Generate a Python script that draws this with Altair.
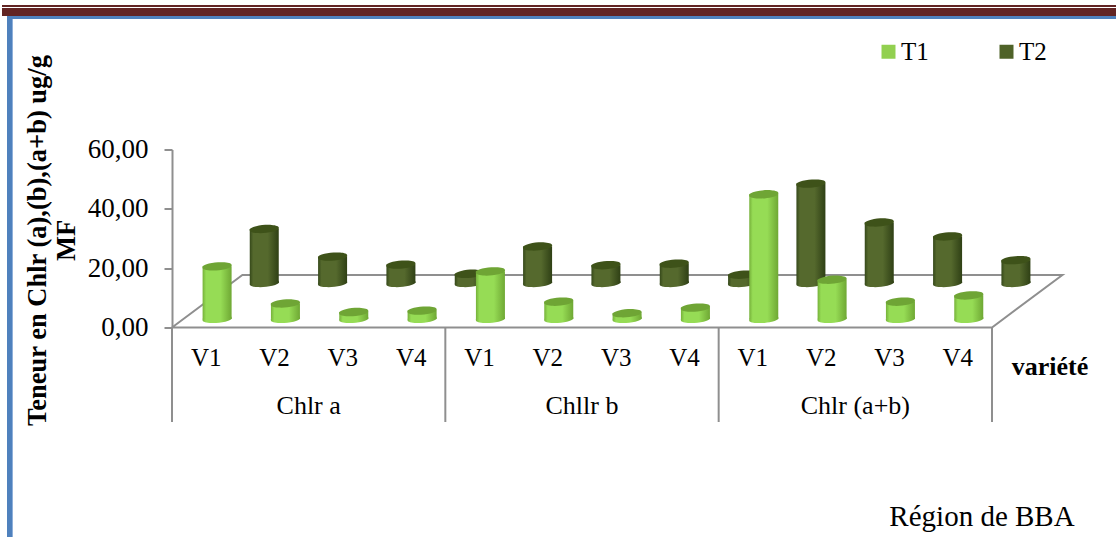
import altair as alt
import pandas as pd

# Chlorophyll content per pigment and variety, for the two treatments
groups = ["Chlr a", "Chllr b", "Chlr (a+b)"]
varieties = ["V1", "V2", "V3", "V4"]
series = ["T1", "T2"]
t1_values = [17.7, 5.2, 2.3, 2.8, 16.0, 5.8, 1.9, 3.8, 42.0, 13.2, 5.8, 7.9]
t2_values = [18.2, 8.9, 6.2, 3.1, 12.3, 6.0, 6.5, 2.8, 33.5, 20.4, 15.7, 7.7]
y_ticks = [0, 20, 40, 60]

SERIF = "Liberation Serif"
AXIS_GREY = "#8f8f8f"
T1_COLOR, T2_COLOR = "#92D050", "#4F6228"

# Plot area inside the page
LEFT, TOP, WIDTH, HEIGHT = 172, 149.5, 820, 178
PAGE_W, PAGE_H = 1116, 537

# Oblique projection: each row stands on a lifted, shifted floor
T1_SHIFT, T1_LIFT = 0.66, 2.9
T2_SHIFT, T2_LIFT = 1.35, 15.0
DEPTH_X, DEPTH_Y = 1.03, 17.7
CYL_W = 29

rows = []
for i, (a, b) in enumerate(zip(t1_values, t2_values)):
    rows.append(dict(serie="T1", x=i + T1_SHIFT, base=T1_LIFT, top=T1_LIFT + a))
    rows.append(dict(serie="T2", x=i + T2_SHIFT, base=T2_LIFT, top=T2_LIFT + b))
table = pd.DataFrame(rows)

x_scale = alt.Scale(domain=[0, 12], nice=False, zero=False, padding=0)
y_scale = alt.Scale(domain=[0, 60], nice=False, zero=False, padding=0)
y_axis = alt.Axis(
    values=y_ticks,
    labelExpr="replace(format(datum.value, '.2f'), '.', ',')",
    grid=False, domainColor=AXIS_GREY, domainWidth=2,
    tickColor=AXIS_GREY, tickWidth=2, tickSize=8,
    labelFont=SERIF, labelFontSize=27, labelColor="#000000", labelPadding=16,
    title=["Teneur en Chlr (a),(b),(a+b) ug/g", "MF"],
    titleFont=SERIF, titleFontSize=26.5, titleFontWeight="bold", titleColor="#000000",
    titleLineHeight=29, titleX=37 - LEFT, titleY=240 - TOP, titleAngle=270,
    titleAlign="center", titleBaseline="middle",
)
X = lambda f: alt.X(f, type="quantitative", scale=x_scale, axis=None)
Y = lambda f: alt.Y(f, type="quantitative", scale=y_scale, axis=y_axis)

ELLIPSE = "M-1,0.08 A1.01,0.25 -4.5 1 1 1,-0.08 A1.01,0.25 -4.5 1 1 -1,0.08 Z"


def side_gradient(edge, mid, dark):
    return alt.Gradient(
        gradient="linear", x1=0, y1=0, x2=1, y2=0,
        stops=[
            alt.GradientStop(offset=0, color=edge),
            alt.GradientStop(offset=0.12, color=mid),
            alt.GradientStop(offset=0.62, color=mid),
            alt.GradientStop(offset=1, color=dark),
        ],
    )


def cylinders(name, edge, mid, dark, cap):
    data = table[table.serie == name]
    fill = side_gradient(edge, mid, dark)
    foot = alt.Chart(data).mark_point(
        shape=ELLIPSE, size=CYL_W ** 2, filled=True, fill=fill, opacity=1, strokeWidth=0
    ).encode(x=X("x"), y=Y("base"))
    body = alt.Chart(data).mark_bar(size=CYL_W, color=fill).encode(
        x=X("x"), y=Y("top"), y2="base:Q",
    )
    head = alt.Chart(data).mark_point(
        shape=ELLIPSE, size=CYL_W ** 2, filled=True, fill=cap, opacity=1, strokeWidth=0
    ).encode(x=X("x"), y=Y("top"))
    return foot + body + head


def band(x0, y0, x1, y1, color):
    """Page furniture given in page pixels."""
    return alt.Chart(alt.Data(values=[{}])).mark_rect(color=color).encode(
        x=alt.value(x0 - LEFT), x2=alt.value(x1 - LEFT),
        y=alt.value(y0 - TOP), y2=alt.value(y1 - TOP),
    )


frame = (
    band(2, 5, PAGE_W, 7, "#622423")
    + band(2, 8, PAGE_W, 16, "#622423")
    + band(7, 16, PAGE_W, 19, "#4F81BD")
    + band(7, 16, 12, PAGE_H, "#4F81BD")
    + band(12, 19, 13, PAGE_H, "#8FB0DA")
)

# Floor outline of the 3D box, which also carries the value axis
floor_df = pd.DataFrame({
    "x": [0, 12, 12 + DEPTH_X, DEPTH_X, 0],
    "y": [0, 0, DEPTH_Y, DEPTH_Y, 0],
    "o": [0, 1, 2, 3, 4],
})
floor = alt.Chart(floor_df).mark_line(color=AXIS_GREY, strokeWidth=2).encode(
    x=X("x"), y=Y("y"), order="o:Q",
)

# Two-level category axis below the front edge
seps = alt.Chart(pd.DataFrame({"x": [0, 4, 8, 12]})).mark_rule(
    color=AXIS_GREY, strokeWidth=2
).encode(x=X("x"), y=alt.value(HEIGHT), y2=alt.value(422 - TOP))

var_df = pd.DataFrame({
    "x": [i + 0.5 for i in range(12)],
    "t": [varieties[i % 4] for i in range(12)],
})
var_text = alt.Chart(var_df).mark_text(
    font=SERIF, fontSize=25, color="#000000", baseline="middle"
).encode(x=X("x"), y=alt.value(358 - TOP), text="t:N")

grp_df = pd.DataFrame({"x": [2, 6, 10], "t": groups})
grp_text = alt.Chart(grp_df).mark_text(
    font=SERIF, fontSize=26, color="#000000", baseline="middle"
).encode(x=X("x"), y=alt.value(406 - TOP), text="t:N")


def note(text, x, y, **style):
    return alt.Chart(alt.Data(values=[{"t": text}])).mark_text(
        font=SERIF, color="#000000", baseline="middle", **style
    ).encode(x=alt.value(x - LEFT), y=alt.value(y - TOP), text="t:N")


variete = note("variété", 1050, 367, fontSize=26, fontWeight="bold")
region = note("Région de BBA", 982, 517, fontSize=29)

legend_layer = alt.Chart(pd.DataFrame({"serie": series, "x": [0, 0]})).mark_square(size=0).encode(
    x=X("x"),
    color=alt.Color(
        "serie:N",
        scale=alt.Scale(domain=series, range=[T1_COLOR, T2_COLOR]),
        legend=alt.Legend(
            orient="none", legendX=882 - LEFT - 6, legendY=39 - TOP, direction="horizontal",
            title=None, symbolType="square", symbolSize=196, symbolStrokeWidth=0,
            symbolOpacity=1,
            labelFont=SERIF, labelFontSize=25, labelColor="#000000", labelOffset=0,
            columnPadding=65, padding=0,
        ),
    ),
)

chart = alt.layer(
    frame,
    floor,
    seps,
    cylinders("T2", "#35481A", "#55692D", "#2F4015", "#3E5219"),
    cylinders("T1", "#76B13A", "#96DC55", "#6FA834", "#6FA535"),
    var_text,
    grp_text,
    variete,
    region,
    legend_layer,
).resolve_scale(color="independent").properties(
    width=WIDTH,
    height=HEIGHT,
    padding={"left": LEFT, "top": TOP, "right": PAGE_W - LEFT - WIDTH, "bottom": PAGE_H - TOP - HEIGHT},
    autosize=alt.AutoSizeParams(type="none"),
    background="#ffffff",
).configure_view(stroke=None)

chart.save("out.html", embed_options={"renderer": "svg", "actions": False})
